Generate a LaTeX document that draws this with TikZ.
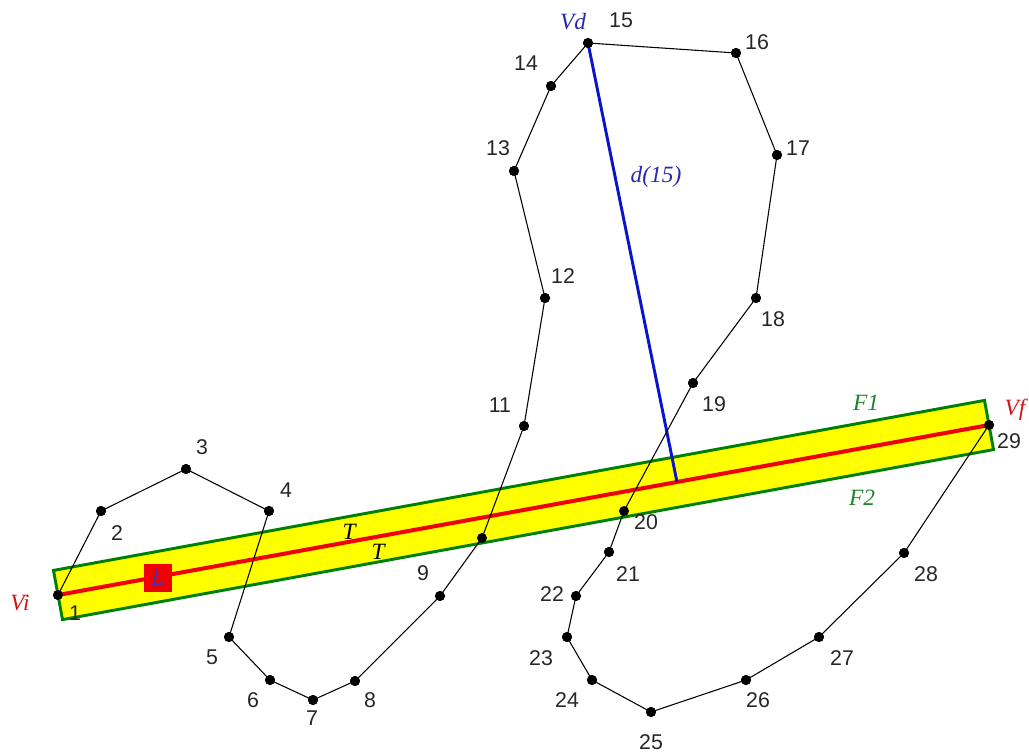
\documentclass[tikz,border=0pt]{standalone}
\usepackage{fontspec}
\setmainfont{Liberation Sans}
\newfontfamily\lblfont{Liberation Serif}
\definecolor{bandyellow}{RGB}{255,255,0}
\definecolor{banddark}{RGB}{0,128,0}
\definecolor{lblgreen}{RGB}{30,130,40}
\definecolor{axisred}{RGB}{240,0,0}
\definecolor{lblred}{RGB}{210,20,20}
\definecolor{dblue}{RGB}{10,20,200}
\definecolor{lblue}{RGB}{40,40,170}
\definecolor{Lpurple}{RGB}{70,50,170}
\begin{document}
\begin{tikzpicture}[x=0.75pt,y=-0.75pt,
  dot/.style={circle,fill=black,inner sep=0pt,minimum size=7.5pt},
  num/.style={font=\fontsize{16}{16}\selectfont,inner sep=0pt,text=black!85},
  ital/.style={font=\lblfont\itshape\fontsize{17.5}{17.5}\selectfont,inner sep=0pt},
  poly/.style={black,line width=0.8pt},
  bandedge/.style={banddark,line width=2.2pt,line join=miter}]
\useasboundingbox (0,0) rectangle (1029,754);
% points
\node[dot] (p1) at (58,595) {};
\node[dot] (p2) at (101,511) {};
\node[dot] (p3) at (186,469) {};
\node[dot] (p4) at (269,511) {};
\node[dot] (p5) at (229,637) {};
\node[dot] (p6) at (270,680) {};
\node[dot] (p7) at (313,700) {};
\node[dot] (p8) at (355,681) {};
\node[dot] (p9) at (440,596) {};
\node[dot] (p10) at (482,538) {};
\node[dot] (p11) at (524,426) {};
\node[dot] (p12) at (545,298) {};
\node[dot] (p13) at (514,171) {};
\node[dot] (p14) at (551,86) {};
\node[dot] (p15) at (588,43) {};
\node[dot] (p16) at (736,53) {};
\node[dot] (p17) at (777,155) {};
\node[dot] (p18) at (756,298) {};
\node[dot] (p19) at (693,383) {};
\node[dot] (p20) at (624,511) {};
\node[dot] (p21) at (609,552) {};
\node[dot] (p22) at (576,596) {};
\node[dot] (p23) at (567,637) {};
\node[dot] (p24) at (592,680) {};
\node[dot] (p25) at (651,712) {};
\node[dot] (p26) at (746,680) {};
\node[dot] (p27) at (819,637) {};
\node[dot] (p28) at (904,553) {};
\node[dot] (p29) at (989,425) {};
% band
\coordinate (bTL) at (53.5,570.4);
\coordinate (bTR) at (984.5,400.4);
\coordinate (bBR) at (993.5,449.6);
\coordinate (bBL) at (62.5,619.6);
\fill[bandyellow] (bTL) -- (bTR) -- (bBR) -- (bBL) -- cycle;
\draw[bandedge] (bTL) -- (bTR) -- (bBR) -- (bBL) -- cycle;
% axis
\draw[axisred,line width=3pt] (p1.center) -- (p29.center);
% distance
\coordinate (foot) at (677,482);
\draw[dblue,line width=2.2pt] (p15.center) -- (foot);
% polyline
\draw[poly] (p1.center) -- (p2.center) -- (p3.center) -- (p4.center) -- (p5.center) -- (p6.center) -- (p7.center) -- (p8.center) -- (p9.center) -- (p10.center) -- (p11.center) -- (p12.center) -- (p13.center) -- (p14.center) -- (p15.center) -- (p16.center) -- (p17.center) -- (p18.center) -- (p19.center) -- (p20.center) -- (p21.center) -- (p22.center) -- (p23.center) -- (p24.center) -- (p25.center) -- (p26.center) -- (p27.center) -- (p28.center) -- (p29.center);
% redraw dots on top
\foreach \i in {1,...,29} {\fill (p\i) circle (3.75pt);}
% L box
\node[fill=axisred,minimum width=21pt,minimum height=21pt,inner sep=0pt,text=Lpurple,font=\lblfont\itshape\fontsize{18}{18}\selectfont] (Lbox) at (158,578) {L};
% number labels
\node[num] (n1) at (75,613) {1};
\node[num] (n2) at (117,533) {2};
\node[num] (n3) at (202,447) {3};
\node[num] (n4) at (286,490) {4};
\node[num] (n5) at (212,657) {5};
\node[num] (n6) at (253,700) {6};
\node[num] (n7) at (312,718) {7};
\node[num] (n8) at (370,700) {8};
\node[num] (n9) at (423,573) {9};
\node[num] (n11) at (500,405) {11};
\node[num] (n12) at (563,276) {12};
\node[num] (n13) at (498,148) {13};
\node[num] (n14) at (526,63) {14};
\node[num] (n15) at (621,20) {15};
\node[num] (n16) at (757,42) {16};
\node[num] (n17) at (798,148) {17};
\node[num] (n18) at (773,319) {18};
\node[num] (n19) at (714,404) {19};
\node[num] (n20) at (646,522) {20};
\node[num] (n21) at (628,574) {21};
\node[num] (n22) at (552,594) {22};
\node[num] (n23) at (541,658) {23};
\node[num] (n24) at (567,700) {24};
\node[num] (n25) at (651,742) {25};
\node[num] (n26) at (758,700) {26};
\node[num] (n27) at (842,658) {27};
\node[num] (n28) at (926,574) {28};
\node[num] (n29) at (1009,441) {29};
% italic labels
\node[ital,text=lblue] (Vd) at (573,22) {Vd};
\node[ital,text=lblue] (d15) at (656,177) {d(15)};
\node[ital,text=lblred] (Vi) at (20,603) {Vi};
\node[ital,text=lblred] (Vf) at (1015,410) {Vf};
\node[ital,text=lblgreen] (F1) at (866,403) {F1};
\node[ital,text=lblgreen] (F2) at (862,498) {F2};
\node[ital,text=black] (T1) at (349,532) {T};
\node[ital,text=black] (T2) at (378,552) {T};
\end{tikzpicture}
\end{document}
